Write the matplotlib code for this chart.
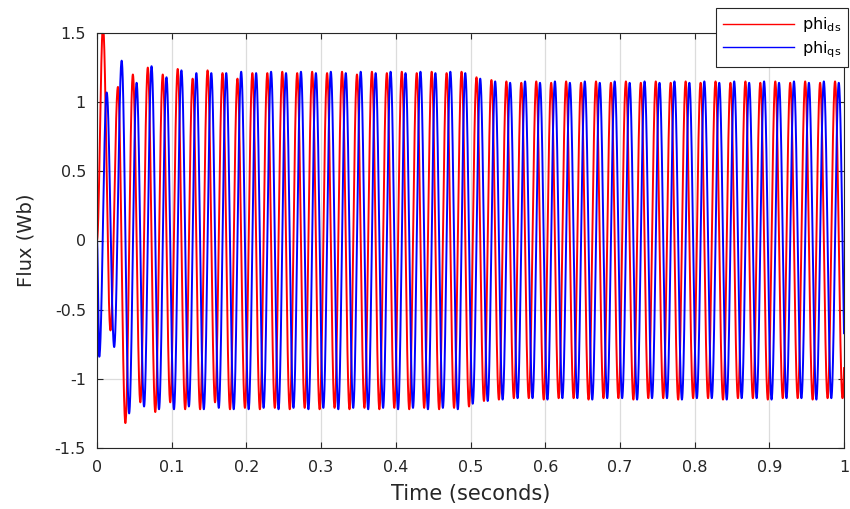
import numpy as np
import matplotlib
matplotlib.use('Agg')
import matplotlib.pyplot as plt
from matplotlib.ticker import FormatStrFormatter

plt.rcParams['font.family'] = 'DejaVu Sans'
plt.rcParams['axes.unicode_minus'] = False
plt.rcParams['mathtext.fontset'] = 'dejavusans'

# grid frequency and where the first extremum of each flux sits (seconds)
F_GRID = 50.0
DS_FIRST = 0.008   # first phi_ds peak
QS_FIRST = 0.003   # first phi_qs trough

# phi_ds: peaks at DS_FIRST + k/F, troughs half a period later
ds_peaks = [1.55, 1.11, 1.20, 1.25, 1.20, 1.24, 1.17, 1.23, 1.21, 1.17, 1.21, 1.21, 1.22,
            1.21, 1.22, 1.21, 1.22, 1.20, 1.22, 1.21, 1.22, 1.21, 1.22, 1.21, 1.22,
            1.18, 1.16, 1.15, 1.14, 1.15, 1.14, 1.15, 1.14, 1.15, 1.14, 1.15, 1.14, 1.15,
            1.14, 1.15, 1.14, 1.15, 1.14, 1.15, 1.14, 1.15, 1.14, 1.15, 1.14, 1.15, 1.14]
ds_troughs = [-0.65, -1.32, -1.17, -1.24, -1.17, -1.22, -1.22, -1.17, -1.22, -1.21, -1.22, -1.21, -1.22,
              -1.21, -1.22, -1.21, -1.22, -1.21, -1.22, -1.21, -1.22, -1.21, -1.22, -1.21, -1.20,
              -1.16, -1.15, -1.14, -1.14, -1.15, -1.14, -1.14, -1.15, -1.14, -1.14, -1.15, -1.14, -1.14,
              -1.15, -1.14, -1.14, -1.15, -1.14, -1.14, -1.15, -1.14, -1.14, -1.15, -1.14, -1.14]

# phi_qs: troughs at QS_FIRST + k/F, peaks half a period later
qs_troughs = [-0.84, -0.77, -1.25, -1.20, -1.22, -1.22, -1.20, -1.22, -1.21, -1.22, -1.22, -1.21, -1.22,
              -1.21, -1.22, -1.21, -1.22, -1.21, -1.22, -1.21, -1.22, -1.21, -1.22, -1.21, -1.22,
              -1.18, -1.16, -1.15, -1.14, -1.14, -1.15, -1.14, -1.14, -1.15, -1.14, -1.14, -1.15, -1.14,
              -1.14, -1.15, -1.14, -1.14, -1.15, -1.14, -1.14, -1.15, -1.14, -1.14, -1.15, -1.14, -1.14]
qs_peaks = [1.07, 1.30, 1.14, 1.26, 1.18, 1.23, 1.21, 1.21, 1.21, 1.22, 1.21, 1.22, 1.21,
            1.22, 1.21, 1.22, 1.21, 1.22, 1.21, 1.22, 1.21, 1.22, 1.21, 1.22, 1.21,
            1.17, 1.15, 1.14, 1.15, 1.14, 1.15, 1.14, 1.15, 1.14, 1.15, 1.14, 1.15, 1.14,
            1.15, 1.14, 1.15, 1.14, 1.15, 1.14, 1.15, 1.14, 1.15, 1.14, 1.15, 1.14]

x_ticks = [0, 0.1, 0.2, 0.3, 0.4, 0.5, 0.6, 0.7, 0.8, 0.9, 1]
y_ticks = [-1.5, -1, -0.5, 0, 0.5, 1, 1.5]


def flux_wave(t, first, second, t_first):
    # extrema alternate first/second every half period, signal starts at 0
    vals = np.empty(len(first) + len(second))
    vals[0::2] = first
    vals[1::2] = second
    times = t_first + np.arange(len(vals)) / (2 * F_GRID)
    times = np.concatenate([[0.0], times])
    vals = np.concatenate([[0.0], vals])
    i = np.clip(np.searchsorted(times, t, side='right') - 1, 0, len(times) - 2)
    s = (t - times[i]) / (times[i + 1] - times[i])
    # half-cosine between extrema -> sinusoidal shape
    return vals[i] + (vals[i + 1] - vals[i]) * (1 - np.cos(np.pi * s)) / 2


t = np.linspace(0, 1, 40001)
phi_ds = flux_wave(t, ds_peaks, ds_troughs, DS_FIRST)
phi_qs = flux_wave(t, qs_troughs, qs_peaks, QS_FIRST)

fig = plt.figure(figsize=(8.5, 5.09), dpi=100)
ax = fig.add_axes([97 / 850, 1 - 448 / 509, 747 / 850, 415 / 509])

ax.plot(t, phi_ds, color='#ff0000', lw=1.4, label=r'phi$_{\mathrm{ds}}$')
ax.plot(t, phi_qs, color='#0000ff', lw=1.4, label=r'phi$_{\mathrm{qs}}$')

ax.set_xlim(0, 1)
ax.set_ylim(-1.5, 1.5)
ax.set_xticks(x_ticks)
ax.set_yticks(y_ticks)
ax.xaxis.set_major_formatter(FormatStrFormatter('%g'))
ax.yaxis.set_major_formatter(FormatStrFormatter('%g'))
ax.tick_params(direction='in', length=4, width=0.8, top=True, right=True,
               labelsize=11.5, colors='#262626')
ax.tick_params(axis='x', pad=9)
ax.tick_params(axis='y', pad=8)
for sp in ax.spines.values():
    sp.set_color('#262626')
    sp.set_linewidth(0.8)
ax.grid(True, color='#dcdcdc', lw=0.9)
ax.set_axisbelow(True)

ax.set_xlabel('Time (seconds)', fontsize=15, color='#262626', labelpad=6)
ax.set_ylabel('Flux (Wb)', fontsize=14, color='#262626', labelpad=14)

leg = ax.legend(loc='upper right', bbox_to_anchor=(848 / 850, 1 - 8 / 509),
                bbox_transform=fig.transFigure, borderaxespad=0, fontsize=11.5,
                handlelength=4.4, handletextpad=0.5, labelspacing=0.3,
                borderpad=0.45, fancybox=False, framealpha=1, edgecolor='#262626')
leg.get_frame().set_linewidth(0.8)
for line in leg.get_lines():
    line.set_linewidth(1.0)

fig.savefig('out.png', dpi=100)
